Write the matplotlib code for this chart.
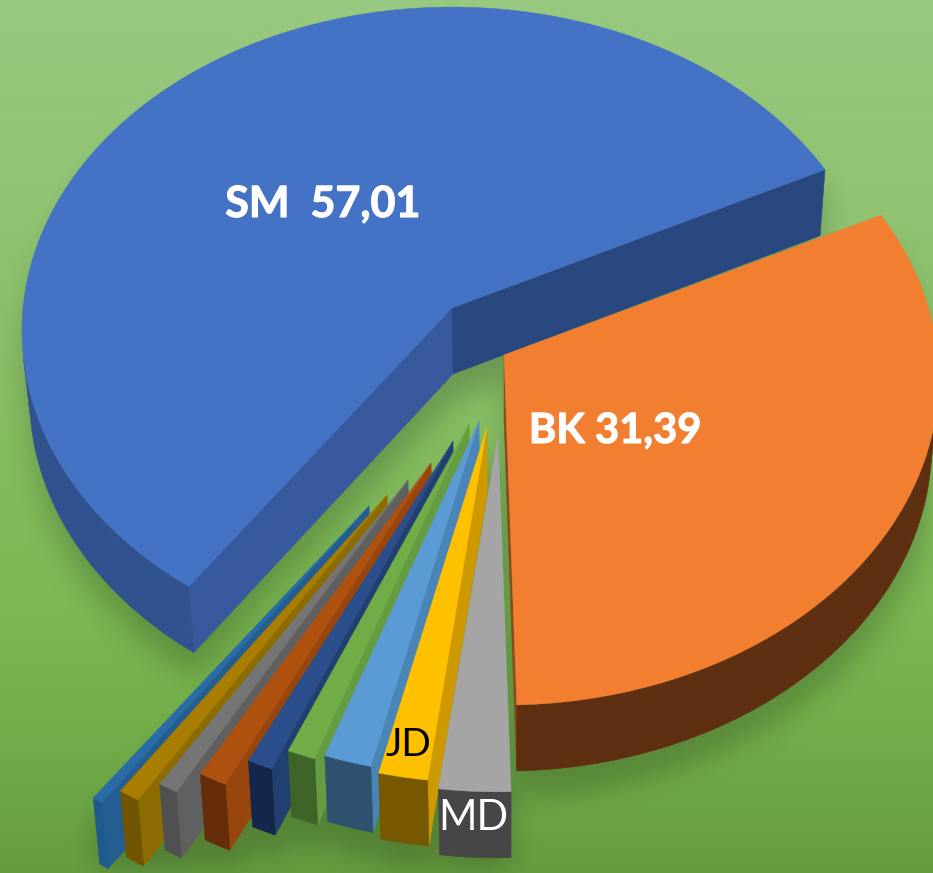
import numpy as np
import matplotlib
matplotlib.use("Agg")
import matplotlib.pyplot as plt
import matplotlib.patheffects as pe
from matplotlib.path import Path
from matplotlib.patches import Polygon

# values in clockwise order, starting at the BK slice
names = ["BK", "MD", "JD", "s4", "s5", "s6", "s7", "s8", "s9", "s10", "SM"]
values = [31.39, 2.4, 1.65, 1.6, 0.95, 0.85, 0.95, 0.65, 0.7, 0.35, 57.01]

# slice colours: top, side cut, outer rim
top_col = ["#F27F30", "#A5A5A5", "#FFC000", "#5B9BD5", "#70AD47", "#2B4E8C", "#B0520F", "#757575", "#A87D00", "#2A6CA8", "#4472C4"]
cut_col = ["#8A4A1E", "#A0A0A0", "#CC9A00", "#4A85B8", "#659C41", "#223F72", "#98460D", "#606060", "#8C6B00", "#245D90", "#375A9E"]
rim_col = ["#5F2F12", "#464646", "#755800", "#2F5270", "#3F6428", "#14264A", "#652D08", "#505050", "#705400", "#1F5A8C", "#30528F"]

# how far each slice is pulled out of the pie, pixels
explode_x = [52, 46, 35, 27, 17, 1, -21, -44, -65, -83, 0]
explode_y = [47, 127, 119, 113, 116, 133, 155, 172, 187, 198, 0]

# view of the pie
cx, cy = 452, 308
rx, ry = 429, 322
persp = 0.07
depth = 66
vanish_x = 508
converge = 0.0157
start_angle = 63.7


def project(u, v, ox, oy):
    # nearer points come out bigger
    s = 1 / (1 + persp * (v - (oy - cy) / ry))
    return ox + rx * u * s, oy - ry * v * s


def drop(p):
    return p[0] + (vanish_x - p[0]) * converge, p[1] + depth


def slice_outline(a0, a1, ox, oy):
    n = max(int((a1 - a0) * 2), 3)
    ang = np.radians(np.linspace(a0, a1, n))
    pts = [project(np.sin(a), np.cos(a), ox, oy) for a in ang]
    return (ox, oy), pts


def faces_viewer(p, q):
    p2 = drop(p)
    return (q[0] - p[0]) * (p2[1] - p[1]) - (q[1] - p[1]) * (p2[0] - p[0]) < 0


def draw_wall(ax, pts, col, z):
    # one polygon for a run of points, so the rim has no seams
    low = [drop(p) for p in pts]
    ax.add_patch(Polygon(pts + low[::-1], closed=True, fc=col, ec=col, lw=0.4, zorder=z))


total = sum(values)
spans = [v / total * 360 for v in values]
starts = start_angle + np.concatenate([[0], np.cumsum(spans)[:-1]])

slices = []
for i in range(len(values)):
    apex, arc = slice_outline(starts[i], starts[i] + spans[i], cx + explode_x[i], cy + explode_y[i])
    slices.append((apex, arc))

# background gradient and the soft shadow of the pie, which falls downwards
W, H = 933, 873
step = 3
shadow_shift = 24
gx, gy = np.meshgrid(np.arange(0, W, step), np.arange(0, H, step))
grid = np.column_stack([gx.ravel(), gy.ravel() - shadow_shift])
mask = np.zeros(gx.shape)
for apex, arc in slices:
    top = [apex] + arc
    low = [drop(p) for p in top]
    hull = top + low[::-1]
    for poly in (top, low, hull):
        mask = np.maximum(mask, Path(poly + [poly[0]]).contains_points(grid).reshape(gx.shape).astype(float))

kern = np.ones(9) / 9
blur = mask
for k in range(3):
    blur = np.apply_along_axis(lambda r: np.convolve(r, kern, mode="same"), 0, blur)
    blur = np.apply_along_axis(lambda r: np.convolve(r, kern, mode="same"), 1, blur)

stops_y = [0, 300, 600, 720, 873]
stops_rgb = np.array([[0x99, 0xC9, 0x80], [0x8C, 0xC1, 0x6C], [0x7B, 0xB9, 0x52], [0x72, 0xAF, 0x4A], [0x66, 0x9C, 0x40]]) / 255
bg = np.dstack([np.interp(gy, stops_y, stops_rgb[:, c]) for c in range(3)])
bg = bg * (1 - 0.2 * np.clip(blur, 0, 1))[..., None]

fig = plt.figure(figsize=(9.33, 8.73), dpi=100)
ax = fig.add_axes([0, 0, 1, 1])
ax.imshow(bg, extent=(0, W, H, 0), aspect="auto", interpolation="bilinear", zorder=0)
ax.set_xlim(0, W)
ax.set_ylim(H, 0)
ax.axis("off")

# back to front: SM, then the thin ones from the left, BK last
order = [10, 9, 8, 7, 6, 5, 4, 3, 2, 1, 0]
for z, i in enumerate(order):
    apex, arc = slices[i]
    base = 2 + z * 3
    cut = cut_col[i]
    if faces_viewer(apex, arc[0]):
        draw_wall(ax, [apex, arc[0]], cut, base)
    # the long blue cut at the back is darker than the front one
    if faces_viewer(arc[-1], apex):
        draw_wall(ax, [arc[-1], apex], "#2A4880" if names[i] == "SM" else cut, base)
    run = []
    for p, q in zip(arc[:-1], arc[1:]):
        if faces_viewer(p, q):
            run = run + [p, q] if not run else run + [q]
        elif run:
            draw_wall(ax, run, rim_col[i], base + 1)
            run = []
    if run:
        draw_wall(ax, run, rim_col[i], base + 1)
    ax.add_patch(Polygon([apex] + arc, closed=True, fc=top_col[i], ec=top_col[i], lw=0.3, zorder=base + 2))

font = ["Lato", "DejaVu Sans"]
heavy = [pe.withStroke(linewidth=0.8, foreground="white")]
ax.text(323, 204, "SM  57,01", color="white", fontsize=31, fontweight="bold", family=font, ha="center", va="center", zorder=50, path_effects=heavy)
ax.text(615, 431, "BK 31,39", color="white", fontsize=30, fontweight="bold", family=font, ha="center", va="center", zorder=50, path_effects=heavy)
ax.text(408, 745, "JD", color="black", fontsize=28, family=font, ha="center", va="center", zorder=50)
ax.text(473, 818, "MD", color="white", fontsize=30, family=font, ha="center", va="center", zorder=50)

fig.savefig("out.png", dpi=100)
